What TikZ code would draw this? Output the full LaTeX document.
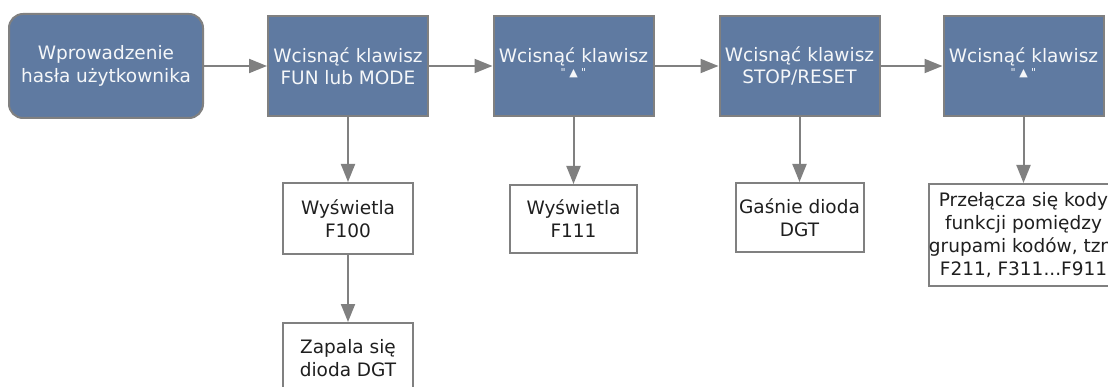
\documentclass[tikz,border=0pt]{standalone}
\usepackage{fontspec}
\setmainfont{DejaVu Sans}
\usetikzlibrary{arrows.meta}
\definecolor{keyblue}{HTML}{5F7AA1}
\definecolor{edgegray}{HTML}{808080}

\begin{document}
\begin{tikzpicture}[x=1pt,y=-1pt,
  keybox/.style={draw=edgegray,line width=2pt,fill=keyblue,text=white!94!keyblue,align=center,
    minimum width=160pt,minimum height=100pt,inner sep=0pt,font=\fontsize{18.5}{22.5}\selectfont},
  infobox/.style={draw=edgegray,line width=2pt,fill=white,text=black!88,align=center,
    inner sep=0pt,font=\fontsize{18.5}{23}\selectfont},
  flow/.style={draw=edgegray,line width=2pt,-{Triangle[length=18pt,width=14pt]}}]
  \useasboundingbox (0,0) rectangle (1108,387);
  \clip (0,0) rectangle (1108,387);
  % top row: keys to press
  \node[keybox,rounded corners=14pt,minimum width=194pt,minimum height=104pt] (start) at (106,66) {Wprowadzenie\\hasła użytkownika};
  \node[keybox] (fun) at (348,66) {Wcisnąć klawisz\\FUN lub MODE};
  \node[keybox] (up1) at (573.5,66) {Wcisnąć klawisz\\[-9pt]{\fontsize{11}{12}\selectfont\textquotedbl\ ▲\ \textquotedbl\rule[-8pt]{0pt}{8pt}}};
  \node[keybox] (stop) at (799.5,66) {Wcisnąć klawisz\\STOP/RESET};
  \node[keybox] (up2) at (1023.5,66) {Wcisnąć klawisz\\[-9pt]{\fontsize{11}{12}\selectfont\textquotedbl\ ▲\ \textquotedbl\rule[-8pt]{0pt}{8pt}}};
  % lower rows: what the display shows
  \node[infobox,minimum width=130pt,minimum height=71pt] (f100) at (348,218.5) {Wyświetla\\F100};
  \node[infobox,minimum width=127pt,minimum height=68pt] (f111) at (573.5,219) {Wyświetla\\F111};
  \node[infobox,minimum width=128pt,minimum height=69pt] (dgtoff) at (799.5,217.5) {Gaśnie dioda\\DGT};
  \node[infobox,minimum width=185pt,minimum height=102pt] (codes) at (1023.5,235) {Przełącza się kody\\funkcji pomiędzy\\grupami kodów, tzn.\\F211, F311...F911};
  \node[infobox,minimum width=130pt,minimum height=71pt] (dgton) at (348,358.5) {Zapala się\\dioda DGT};
  \foreach \a/\b in {start/fun,fun/up1,up1/stop,stop/up2,fun/f100,up1/f111,stop/dgtoff,up2/codes,f100/dgton}
    \draw[flow] (\a) -- (\b);
\end{tikzpicture}
\end{document}
